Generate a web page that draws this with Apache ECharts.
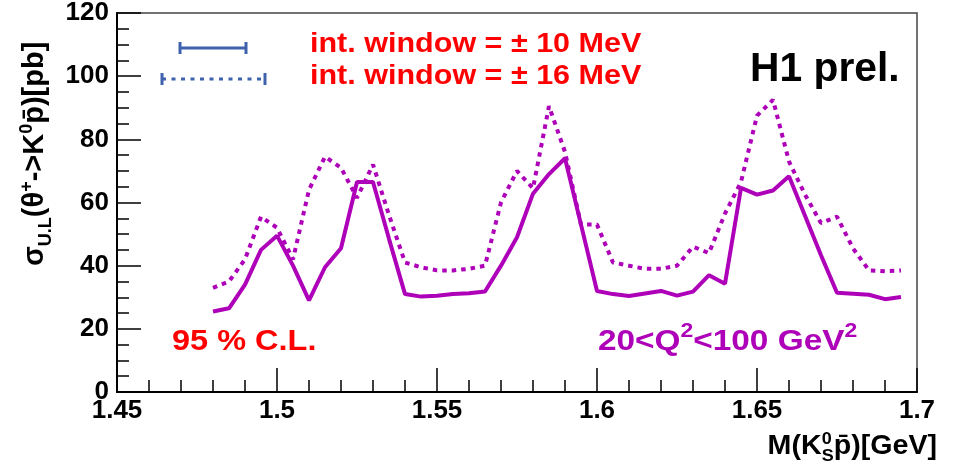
<!DOCTYPE html>
<html><head><meta charset="utf-8">
<script src="https://cdn.jsdelivr.net/npm/echarts@6/dist/echarts.min.js"></script>
<style>html,body{margin:0;padding:0;background:#fff}#c{width:953px;height:468px}</style>
</head><body><div id="c"></div>
<script>
// ---- data ----
const massGeV = [1.480,1.485,1.490,1.495,1.500,1.505,1.510,1.515,1.520,1.525,1.530,1.535,1.540,1.545,1.550,1.555,1.560,1.565,1.570,1.575,1.580,1.585,1.590,1.595,1.600,1.605,1.610,1.615,1.620,1.625,1.630,1.635,1.640,1.645,1.650,1.655,1.660,1.665,1.670,1.675,1.680,1.685,1.690,1.695];
const ulWindow10MeV = [25.5,26.5,34,45,49.5,40,29,39.5,45.5,66.5,66.5,48.5,31,30.2,30.5,31,31.3,31.8,40,49,62.8,69,74,53,32,31,30.4,31.2,32,30.5,31.8,37,34.3,64.6,62.5,63.8,68.3,55.8,43.3,31.4,31.1,30.8,29.4,30.1];
const ulWindow16MeV = [33,35,42,55.5,52,42,64,74.5,71,61.5,72,56,41,39.5,38.5,38.5,39,40,60,70,64.5,90.5,76,53,53,41,40,39,39,40,46,44,56.5,66.5,87.5,92.5,73,62.5,53.5,55.5,45.5,38.5,38.2,38.5];
const xTickLabels = ['1.45','1.5','1.55','1.6','1.65','1.7'];
const yTickLabels = ['0','20','40','60','80','100','120'];
const legendLabels = ['int. window = \u00b1 10 MeV','int. window = \u00b1 16 MeV'];

const PURPLE = '#ad00b8';
const BLUE = '#3f62ad';
const RED = '#ff0000';
const FONT = '"Liberation Sans", Arial, Helvetica, sans-serif';

const cv = document.createElement('canvas').getContext('2d');
function tw(t, s, bold){ cv.font = (bold?'bold ':'') + s + 'px ' + FONT; return cv.measureText(t).width; }
function textRun(parts, o){
  let total = 0;
  parts.forEach(p => { p.w = tw(p.t, p.s, o.bold); if (p.adv !== false) total += p.w; });
  let cur = o.align === 'right' ? -total : 0;
  const children = [];
  parts.forEach(p => {
    children.push({type:'text', x: cur + (p.dx||0), y: -(p.dy||0) - 0.35*p.s,
      style:{text:p.t, font:(o.bold?'bold ':'') + p.s + 'px ' + FONT, fill:o.color,
        textAlign:'left', align:'left', textVerticalAlign:'middle', verticalAlign:'middle'}});
    if (p.adv !== false) cur += p.w;
  });
  return {type:'group', x:o.x, y:o.y, rotation:o.rotation||0, scaleX:o.sx||1, scaleY:o.sy||1, silent:true, children};
}

const chart = echarts.init(document.getElementById('c'), null, {renderer:'canvas'});

const graphics = [];
// legend glyphs
graphics.push({type:'line', shape:{x1:180,y1:48,x2:246,y2:48}, style:{stroke:BLUE, lineWidth:3}});
graphics.push({type:'line', shape:{x1:180,y1:42,x2:180,y2:54}, style:{stroke:BLUE, lineWidth:3}});
graphics.push({type:'line', shape:{x1:246,y1:42,x2:246,y2:54}, style:{stroke:BLUE, lineWidth:3}});
graphics.push({type:'line', shape:{x1:162,y1:79,x2:265,y2:79}, style:{stroke:BLUE, lineWidth:3, lineDash:[4,5.5]}});
graphics.push({type:'line', shape:{x1:162,y1:73,x2:162,y2:85}, style:{stroke:BLUE, lineWidth:3}});
graphics.push({type:'line', shape:{x1:265,y1:73,x2:265,y2:85}, style:{stroke:BLUE, lineWidth:3}});

graphics.push(textRun([{t:legendLabels[0], s:28}], {x:310, y:54, bold:true, color:RED, sx:1.09}));
graphics.push(textRun([{t:legendLabels[1], s:28}], {x:310, y:86, bold:true, color:RED, sx:1.09}));
graphics.push(textRun([{t:'H1 prel.', s:40}], {x:750, y:84, bold:true, color:'#000', sx:1.02}));
graphics.push(textRun([{t:'95 % C.L.', s:29}], {x:172, y:352, bold:true, color:RED, sx:1.12}));
graphics.push(textRun([
  {t:'20<Q', s:29},{t:'2', s:20, dy:14},{t:'<100 GeV', s:29},{t:'2', s:20, dy:14}
], {x:598, y:352, bold:true, color:PURPLE, sx:1.15}));
// x axis title
graphics.push(textRun([
  {t:'M(K', s:27},{t:'0', s:17, dy:11, adv:false},{t:'S', s:17, dy:-6},{t:'p\u0304', s:27},{t:')[GeV]', s:27}
], {x:937, y:456, align:'right', bold:true, color:'#000', sx:1.06}));
// y axis title (rotated)
graphics.push(textRun([
  {t:'\u03c3', s:29},{t:'U.L', s:18, dy:-7},{t:'(\u03b8', s:29},{t:'+', s:18, dy:12},{t:'->K', s:29},{t:'0', s:18, dy:12},{t:'p\u0304', s:29},{t:')[pb]', s:29}
], {x:45, y:266, rotation:Math.PI/2, bold:true, color:'#000'}));

const axisLabelStyle = {color:'#000', fontSize:26, fontWeight:'bold', fontFamily:FONT};

chart.setOption({
  animation:false,
  backgroundColor:'#fff',
  grid:{left:117, right:36, top:10, bottom:76, show:true, borderColor:'#444', borderWidth:1.5, backgroundColor:'transparent'},
  xAxis:{type:'value', min:1.45, max:1.7, interval:0.05,
    axisLine:{show:true, onZero:false, lineStyle:{color:'#000', width:2}},
    axisTick:{show:true, inside:true, length:24, lineStyle:{color:'#000', width:1.5}},
    minorTick:{show:true, splitNumber:5, length:12, lineStyle:{color:'#000', width:1.5}},
    splitLine:{show:false},
    axisLabel:Object.assign({margin:6, formatter:(v)=>{const i=Math.round((v-1.45)/0.05); return xTickLabels[i]!==undefined?xTickLabels[i]:'';}}, axisLabelStyle)
  },
  yAxis:{type:'value', min:0, max:120, interval:20,
    axisLine:{show:true, lineStyle:{color:'#000', width:2}},
    axisTick:{show:true, inside:true, length:24, lineStyle:{color:'#000', width:1.5}},
    minorTick:{show:true, splitNumber:4, length:12, lineStyle:{color:'#000', width:1.5}},
    splitLine:{show:false},
    axisLabel:Object.assign({margin:8, formatter:(v)=>{const i=Math.round(v/20); return yTickLabels[i]!==undefined?yTickLabels[i]:'';}}, axisLabelStyle)
  },
  series:[
    {type:'line', name:'16 MeV', data:massGeV.map((x,i)=>[x, ulWindow16MeV[i]]), showSymbol:false,
      lineStyle:{color:PURPLE, width:4, type:[4.5,5]}, z:3},
    {type:'line', name:'10 MeV', data:massGeV.map((x,i)=>[x, ulWindow10MeV[i]]), showSymbol:false,
      lineStyle:{color:PURPLE, width:4, type:'solid'}, z:4}
  ],
  graphic:graphics
});
</script></body></html>
